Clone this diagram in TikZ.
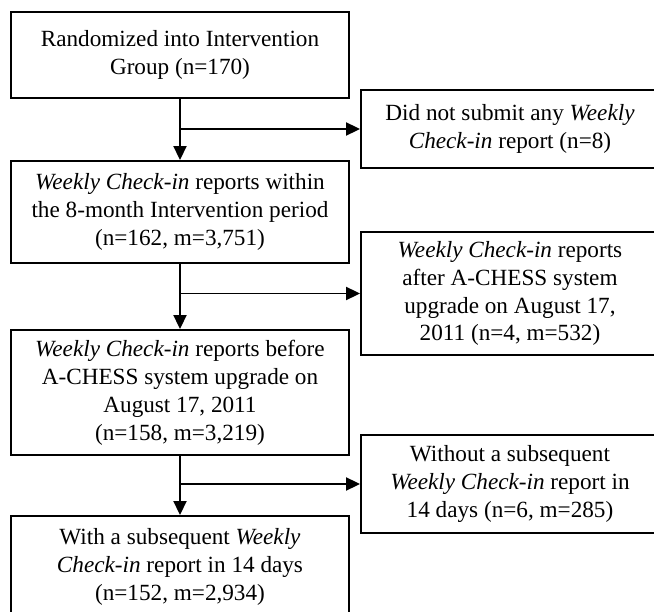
\documentclass[tikz,border=0pt]{standalone}
\usepackage{fontspec}
\setmainfont{Liberation Serif}
\usetikzlibrary{arrows.meta,positioning}
\tikzset{
  stage/.style={
    shape = rectangle,
    draw,
    line width = 1.1pt,
    align = center,
    inner sep = 0pt,
    font = \fontsize{13.2}{15.9}\selectfont
  },
  leftbox/.style={
    stage,
    minimum width = 6.76cm
  },
  rightbox/.style={
    stage,
    minimum width = 5.96cm
  },
  flow/.style={
    line width = 1.1pt,
    -{Triangle[length=0.28cm,width=0.26cm]}
  },
}

\begin{document}
\begin{tikzpicture}[x=0.02cm,y=-0.02cm]
        \useasboundingbox (0,0) rectangle (654,612);
        \clip (0,0) rectangle (654,612);

        % main column
        \node[leftbox, minimum height=1.72cm] (start) at (180,55)
            {Randomized into Intervention\\Group (n=170)};
        \node[leftbox, minimum height=2.04cm] (within) at (180,212)
            {\textit{Weekly Check-in} reports within\\the 8-month Intervention period\\(n=162, m=3,751)};
        \node[leftbox, minimum height=2.5cm] (before) at (180,392.5)
            {\textit{Weekly Check-in} reports before\\A-CHESS system upgrade on\\August 17, 2011\\(n=158, m=3,219)};
        \node[leftbox, minimum height=2.04cm] (with) at (180,567)
            {With a subsequent \textit{Weekly}\\\textit{Check-in} report in 14 days\\(n=152, m=2,934)};

        % excluded column
        \node[rightbox, minimum height=1.56cm] (nowk) at (510,129)
            {Did not submit any \textit{Weekly}\\\textit{Check-in} report (n=8)};
        \node[rightbox, minimum height=2.46cm] (after) at (510,293.5)
            {\textit{Weekly Check-in} reports\\after A-CHESS system\\upgrade on August 17,\\2011 (n=4, m=532)};
        \node[rightbox, minimum height=1.96cm] (without) at (510,484)
            {Without a subsequent\\\textit{Weekly Check-in} report in\\14 days (n=6, m=285)};

        \draw[flow] (start) -- (within);
        \draw[flow] (within) -- (before);
        \draw[flow] (before) -- (with);

        \draw[flow] (start.south |- nowk.west) -- (nowk.west);
        \draw[flow] (within.south |- after.west) -- (after.west);
        \draw[flow] (before.south |- without.west) -- (without.west);
    \end{tikzpicture}
\end{document}
